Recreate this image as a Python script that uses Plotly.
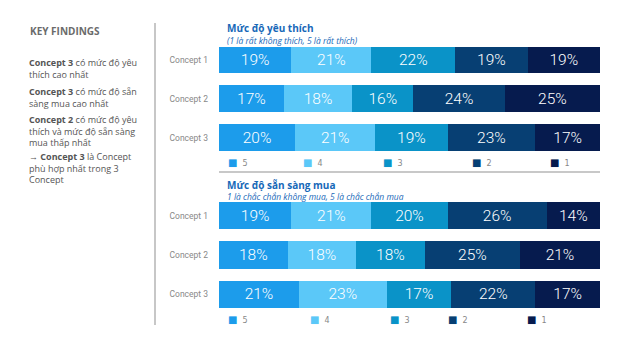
import plotly.graph_objects as go

W, H = 624, 352

concepts = ["Concept 1", "Concept 2", "Concept 3"]
levels = ["5", "4", "3", "2", "1"]

# Mức độ yêu thích (share per level 5..1)
like_5 = [19, 17, 20]
like_4 = [21, 18, 21]
like_3 = [22, 16, 19]
like_2 = [19, 24, 23]
like_1 = [19, 25, 17]

# Mức độ sẵn sàng mua (share per level 5..1)
buy_5 = [19, 18, 21]
buy_4 = [21, 18, 23]
buy_3 = [20, 18, 17]
buy_2 = [26, 25, 22]
buy_1 = [14, 21, 17]

like_series = [like_5, like_4, like_3, like_2, like_1]
buy_series = [buy_5, buy_4, buy_3, buy_2, buy_1]

colors = ["#1C9CEB", "#5BC8F8", "#0A93C8", "#073F73", "#061B4E"]

def px_x(p):
    return p / W

def px_y(p):
    return 1 - p / H

fig = go.Figure()

for series, xa, ya in [(like_series, "x", "y"), (buy_series, "x2", "y2")]:
    for lvl, vals, col in zip(levels, series, colors):
        fig.add_trace(go.Bar(
            y=concepts, x=vals, orientation="h", name=lvl,
            marker=dict(color=col, line=dict(width=0)),
            text=[f"{v}%" for v in vals], textposition="inside",
            insidetextanchor="middle",
            textfont=dict(color="white", size=15.5, family="Roboto", weight=300),
            xaxis=xa, yaxis=ya, showlegend=False, hoverinfo="skip",
        ))

x_dom = [px_x(219), px_x(600)]
yaxis_common = dict(autorange="reversed", showgrid=False, showline=False, zeroline=False,
                    ticks="", ticklabelstandoff=10,
                    tickfont=dict(family="Roboto", size=8.5, color="#888888"))
xaxis_common = dict(range=[0, 100], visible=False, domain=x_dom)

fig.update_layout(
    width=W, height=H, margin=dict(l=0, r=0, t=0, b=0),
    paper_bgcolor="white", plot_bgcolor="white",
    barmode="stack", bargap=0.31,
    xaxis=dict(**xaxis_common, anchor="y"),
    xaxis2=dict(**xaxis_common, anchor="y2"),
    yaxis=dict(**yaxis_common, domain=[px_y(157), px_y(40.6)], anchor="x"),
    yaxis2=dict(**yaxis_common, domain=[px_y(314), px_y(196)], anchor="x2"),
)

ann = []
# Titles
blue = "#1768B8"
ann.append(dict(x=px_x(225), y=px_y(28.5), xref="paper", yref="paper", xanchor="left", yanchor="middle",
                text="<b>Mức độ yêu thích</b>", showarrow=False,
                font=dict(family="Open Sans", size=10, color=blue)))
ann.append(dict(x=px_x(225), y=px_y(40.5), xref="paper", yref="paper", xanchor="left", yanchor="middle",
                text="<i>(1 là rất không thích, 5 là rất thích)</i>", showarrow=False,
                font=dict(family="Open Sans", size=8.5, color=blue)))
ann.append(dict(x=px_x(225), y=px_y(184.5), xref="paper", yref="paper", xanchor="left", yanchor="middle",
                text="<b>Mức độ sẵn sàng mua</b>", showarrow=False,
                font=dict(family="Open Sans", size=10, color=blue)))
ann.append(dict(x=px_x(225), y=px_y(196.5), xref="paper", yref="paper", xanchor="left", yanchor="middle",
                text="<i>1 là chắc chắn không mua, 5 là chắc chắn mua</i>", showarrow=False,
                font=dict(family="Open Sans", size=8.5, color=blue)))

# Legends (custom, per panel)
top_leg_x = [231, 306, 386, 475, 553]
bot_leg_x = [231, 313, 393, 451, 530]
for xs, yp in [(top_leg_x, 162), (bot_leg_x, 319)]:
    for xp, lvl, col in zip(xs, levels, colors):
        ann.append(dict(x=px_x(xp - 5), y=px_y(yp), xref="paper", yref="paper",
                        xanchor="left", yanchor="middle", showarrow=False,
                        text=f"<span style='color:{col};font-size:10px'>■</span>  {lvl}",
                        font=dict(family="DejaVu Sans", size=8, color="#888888")))

# Key findings
ann.append(dict(x=px_x(28), y=px_y(31), xref="paper", yref="paper", xanchor="left", yanchor="middle",
                text="<b>KEY FINDINGS</b>", showarrow=False,
                font=dict(family="Open Sans", size=10, color="#6b6b6b")))
findings = [
    ("<b>Concept 3</b> có mức độ yêu<br>thích cao nhất", 54.5),
    ("<b>Concept 3</b> có mức độ sẵn<br>sàng mua cao nhất", 82.5),
    ("<b>Concept 2</b> có mức độ yêu<br>thích và mức độ sẵn sàng<br>mua thấp nhất", 110.5),
    ("→ <b>Concept 3</b> là Concept<br>phù hợp nhất trong 3<br>Concept", 148),
]
for txt, yp in findings:
    ann.append(dict(x=px_x(27), y=px_y(yp), xref="paper", yref="paper", xanchor="left", yanchor="top",
                    text=txt, showarrow=False, align="left",
                    font=dict(family="Open Sans", size=9, color="#555555")))

fig.update_layout(annotations=ann)

fig.update_layout(shapes=[
    dict(type="line", xref="paper", yref="paper", x0=px_x(155), x1=px_x(155),
         y0=px_y(23), y1=px_y(325), line=dict(color="#b5b5b5", width=1.5)),
    dict(type="line", xref="paper", yref="paper", x0=px_x(219), x1=px_x(600),
         y0=px_y(172), y1=px_y(172), line=dict(color="#c8c8c8", width=2)),
])

fig.write_html("out.html")
